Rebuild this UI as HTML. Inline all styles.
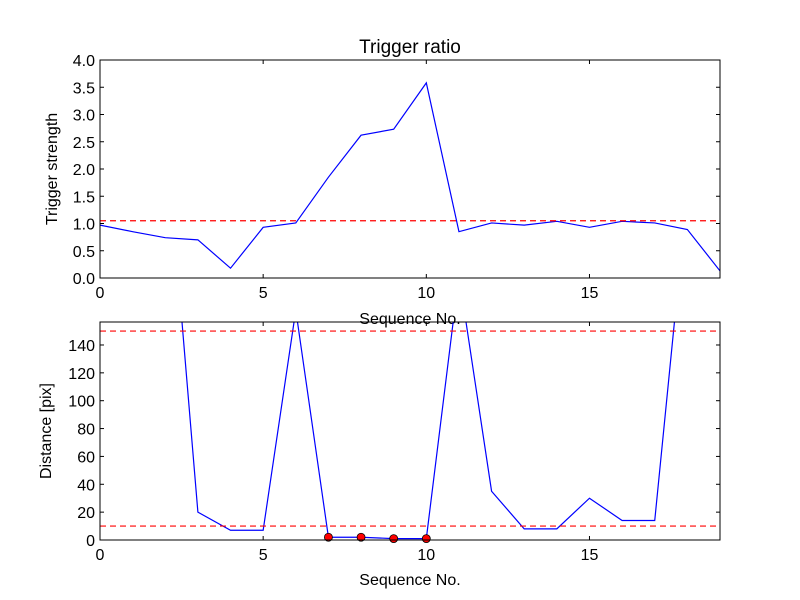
<!DOCTYPE html>
<html><head><meta charset="utf-8"><style>body{margin:0;background:#fff}svg{display:block;font-family:"Liberation Sans","DejaVu Sans",sans-serif}</style></head>
<body>
<svg id="c" width="800" height="600">
<defs>
<clipPath id="clipTop"><rect x="100" y="60" width="620" height="218"/></clipPath>
<clipPath id="clipBot"><rect x="100" y="322" width="620" height="218"/></clipPath>
</defs>
<rect width="800" height="600" fill="#fff"/>
</svg>
<script>
const seq = [0,1,2,3,4,5,6,7,8,9,10,11,12,13,14,15,16,17,18,19];
const strength = [0.97,0.85,0.74,0.70,0.18,0.93,1.01,1.85,2.62,2.73,3.58,0.85,1.01,0.97,1.04,0.93,1.04,1.01,0.89,0.13];
const strengthThreshold = [1.05];
const distance = [400,350,300,20,7,7,165,2,2,1,1,190,35,8,8,30,14,14,250,300];
const distThresholds = [150,10];
const markedIdx = [7,8,9,10];
const xTicks = [0,5,10,15];
const yTicksTop = [0,0.5,1.0,1.5,2.0,2.5,3.0,3.5,4.0];
const yTicksBot = [0,20,40,60,80,100,120,140];

const NS='http://www.w3.org/2000/svg';
const svg=document.getElementById('c');
function mk(tag,attrs,parent){const e=document.createElementNS(NS,tag);for(const k in attrs)e.setAttribute(k,attrs[k]);(parent||svg).appendChild(e);return e;}
const L=100,R=720;
const sx=v=>L+(v-0)/(19-0)*(R-L);
function panel(top,bot,ymax,yTicks,fmt,name){
  const sy=v=>bot-(v/ymax)*(bot-top);
  const g=mk('g',{});
  
  
  xTicks.forEach(t=>{
    const x=sx(t);
    mk('line',{x1:x,x2:x,y1:bot,y2:bot-4,stroke:'#000'},g);
    mk('line',{x1:x,x2:x,y1:top,y2:top+4,stroke:'#000'},g);
    const tx=mk('text',{x:x,y:bot+20,'font-size':16,'text-anchor':'middle'},g);tx.textContent=t;
    
    
  });
  yTicks.forEach(t=>{
    const y=sy(t);
    mk('line',{x1:L,x2:L+4,y1:y,y2:y,stroke:'#000'},g);
    mk('line',{x1:R,x2:R-4,y1:y,y2:y,stroke:'#000'},g);
    const tx=mk('text',{x:L-5,y:y+6,'font-size':16,'text-anchor':'end'},g);tx.textContent=fmt(t);
    
    
  });
  return {g,sy};
}
// top
const P1=panel(60,278,4,yTicksTop,t=>t.toFixed(1),'top-panel');
const l1=mk('polyline',{points:seq.map((s,i)=>sx(s)+','+P1.sy(strength[i])).join(' '),fill:'none',stroke:'#0000ff','stroke-width':1.2,'clip-path':'url(#clipTop)'},P1.g);


strengthThreshold.forEach(v=>{
  const th=mk('line',{x1:L,x2:R,y1:P1.sy(v),y2:P1.sy(v),stroke:'#ff0000','stroke-width':1.2,'stroke-dasharray':'6,4'},P1.g);
  
  
});
mk('rect',{x:L,y:60,width:R-L,height:218,fill:'none',stroke:'#000'},P1.g);
let t=mk('text',{x:410,y:53,'font-size':19,'text-anchor':'middle'});t.textContent='Trigger ratio';

t=mk('text',{x:410,y:324,'font-size':16,'text-anchor':'middle'});t.textContent='Sequence No.';

t=mk('text',{x:57,y:169,'font-size':16,'text-anchor':'middle',transform:'rotate(-90 57 169)'});t.textContent='Trigger strength';

// bottom
const P2=panel(322,540,156.5,yTicksBot,t=>t,'bottom-panel');
const l2=mk('polyline',{points:seq.map((s,i)=>sx(s)+','+P2.sy(distance[i])).join(' '),fill:'none',stroke:'#0000ff','stroke-width':1.2,'clip-path':'url(#clipBot)'},P2.g);


distThresholds.forEach(v=>{
  const th=mk('line',{x1:L,x2:R,y1:P2.sy(v),y2:P2.sy(v),stroke:'#ff0000','stroke-width':1.2,'stroke-dasharray':'6,4'},P2.g);
  
  
});
markedIdx.forEach(i=>{
  const c=mk('circle',{cx:sx(seq[i]),cy:P2.sy(distance[i]),r:4,fill:'#ff0000',stroke:'#000','stroke-width':0.8},P2.g);
  
  
});
mk('rect',{x:L,y:322,width:R-L,height:218,fill:'none',stroke:'#000'},P2.g);
t=mk('text',{x:410,y:585,'font-size':16,'text-anchor':'middle'});t.textContent='Sequence No.';

t=mk('text',{x:51,y:431,'font-size':16,'text-anchor':'middle',transform:'rotate(-90 51 431)'});t.textContent='Distance [pix]';

</script>
</body></html>
